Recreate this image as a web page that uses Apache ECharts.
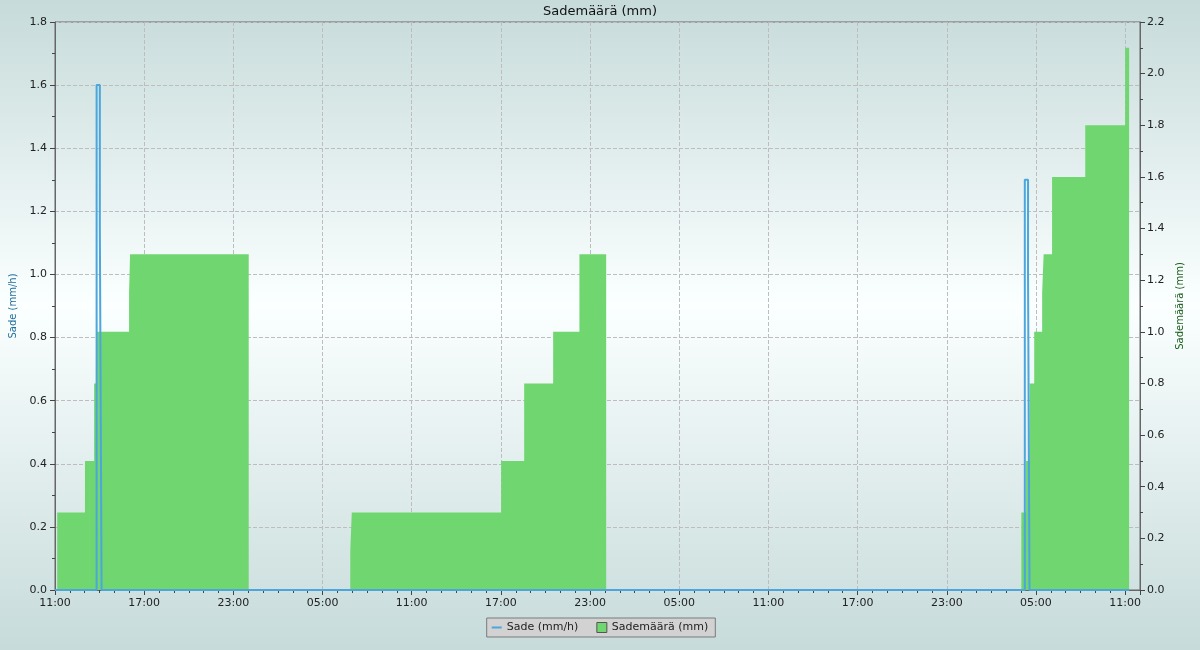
<!DOCTYPE html>
<html>
<head>
<meta charset="utf-8">
<script src="https://cdn.jsdelivr.net/npm/echarts@6/dist/echarts.min.js"></script>
<style>
html,body{margin:0;padding:0;}
#chart{width:1200px;height:650px;}
</style>
</head>
<body>
<div id="chart"></div>
<script>
// Times are "day HH:MM" (day 1 = first day, axis starts at 1 11:00)
const axisStartClock = 11;           // 11:00 on day 1
const axisHours = 73;                // axis spans 73 hours
const xTickHours = 6;

// Sademäärä (mm) – cumulative daily rainfall, value holds until next time
const amountTimes = ['1 11:00','1 11:09','1 13:01','1 13:38','1 13:48','1 15:59','1 16:03','2 00:02',
                     '2 06:52','2 06:58','2 17:01','2 18:34','2 20:31','2 22:17','3 00:05',
                     '4 04:01','4 04:20','4 04:35','4 04:53','4 05:25','4 05:31','4 06:05','4 08:19','4 11:00','4 11:16'];
const amountValues = [0, 0.3, 0.5, 0.8, 1.0, 1.15, 1.3, 0,
                      0.15, 0.3, 0.5, 0.8, 1.0, 1.3, 0,
                      0.3, 0.5, 0.8, 1.0, 1.15, 1.3, 1.6, 1.8, 2.1, 0];

// Sade (mm/h) – rain intensity
const rateTimes = ['1 11:00','1 13:48','1 14:01','1 14:05','1 14:08','4 04:15','4 04:28','4 04:34','4 11:16'];
const rateValues = [0, 1.6, 1.15, 0.5, 0, 1.3, 1.0, 0, 0];

const leftTicks = {min: 0, max: 1.8, interval: 0.2};
const rightTicks = {min: 0, max: 2.2, interval: 0.2};

function toHours(s) {
  const [d, hm] = s.split(' ');
  const [h, m] = hm.split(':').map(Number);
  return (Number(d) - 1) * 24 + h + m / 60 - axisStartClock;
}
function pairs(times, vals) { return times.map((t, i) => [toHours(t), vals[i]]); }

const font = 'DejaVu Sans';
const chart = echarts.init(document.getElementById('chart'), null, {renderer: 'canvas'});
chart.setOption({
  animation: false,
  backgroundColor: {type: 'linear', x: 0, y: 0, x2: 0, y2: 1, colorStops: [
    {offset: 0, color: '#c6dbda'}, {offset: 0.47, color: '#fbffff'}, {offset: 1, color: '#c6dbda'}]},
  textStyle: {fontFamily: font},
  title: {text: 'Sademäärä (mm)', left: 'center', top: 0,
    textStyle: {fontFamily: font, fontSize: 13, fontWeight: 'normal', color: '#111'}},
  grid: {left: 55, right: 60, top: 22, bottom: 60, show: true, borderColor: '#666', borderWidth: 1,
    backgroundColor: 'transparent'},
  legend: {
    bottom: 13, left: 'center', orient: 'horizontal',
    backgroundColor: '#d2d2d2', borderColor: '#7a7a7a', borderWidth: 1, borderRadius: 0,
    padding: [4, 7, 4, 5], itemGap: 18, itemWidth: 10, itemHeight: 10,
    textStyle: {fontFamily: font, fontSize: 11, color: '#222'},
    data: [
      {name: 'Sade (mm/h)', icon: 'path://M0,4 L10,4 L10,6 L0,6 Z', itemStyle: {color: '#4ca6dc'}},
      {name: 'Sademäärä (mm)', icon: 'rect', itemStyle: {color: '#70d670', borderColor: '#555', borderWidth: 1}}
    ]
  },
  xAxis: [{
    type: 'value', min: 0, max: axisHours, interval: xTickHours, position: 'bottom',
    axisLine: {show: true, onZero: false, lineStyle: {color: '#666'}},
    axisTick: {show: true, length: 5, lineStyle: {color: '#444'}},
    axisLabel: {fontFamily: font, fontSize: 11, color: '#222', margin: 8,
      formatter: v => {
        if (v % xTickHours !== 0) return '';
        const h = (axisStartClock + v) % 24;
        return (h < 10 ? '0' : '') + h + ':00';
      }},
    splitLine: {show: true, lineStyle: {color: '#bdbdbd', type: [4, 2], width: 1}}
  }, {
    type: 'value', min: 0, max: axisHours, interval: 1, position: 'bottom',
    axisLine: {show: false, onZero: false},
    axisTick: {show: true, length: 3, lineStyle: {color: '#444'}},
    axisLabel: {show: false},
    splitLine: {show: false}
  }],
  yAxis: [{
    type: 'value', ...leftTicks, position: 'left',
    name: 'Sade (mm/h)', nameLocation: 'middle', nameGap: 36, nameRotate: 90,
    nameTextStyle: {fontFamily: font, fontSize: 10, color: '#1f6e9e'},
    axisLine: {show: true, onZero: false, lineStyle: {color: '#666'}},
    axisTick: {show: true, length: 5, lineStyle: {color: '#444'}},
    minorTick: {show: true, splitNumber: 2, length: 3, lineStyle: {color: '#444'}},
    axisLabel: {fontFamily: font, fontSize: 11, color: '#222', margin: 8, formatter: v => v.toFixed(1)},
    splitLine: {show: true, lineStyle: {color: '#bdbdbd', type: [4, 2], width: 1}}
  }, {
    type: 'value', ...rightTicks, position: 'right',
    name: 'Sademäärä (mm)', nameLocation: 'middle', nameGap: 26, nameRotate: 90,
    nameTextStyle: {fontFamily: font, fontSize: 10, color: '#1a5e1a'},
    axisLine: {show: true, onZero: false, lineStyle: {color: '#666'}},
    axisTick: {show: true, length: 5, lineStyle: {color: '#444'}},
    minorTick: {show: true, splitNumber: 2, length: 3, lineStyle: {color: '#444'}},
    axisLabel: {fontFamily: font, fontSize: 11, color: '#222', margin: 7, formatter: v => v.toFixed(1)},
    splitLine: {show: false}
  }],
  series: [{
    name: 'Sademäärä (mm)', type: 'line', step: 'end', xAxisIndex: 0, yAxisIndex: 1,
    data: pairs(amountTimes, amountValues),
    showSymbol: false, symbol: 'none',
    itemStyle: {color: '#70d670'},
    lineStyle: {width: 0, color: '#70d670'},
    areaStyle: {color: '#70d670', opacity: 1},
    z: 2
  }, {
    name: 'Sade (mm/h)', type: 'line', step: 'end', xAxisIndex: 0, yAxisIndex: 0,
    data: pairs(rateTimes, rateValues),
    showSymbol: false, symbol: 'none',
    itemStyle: {color: '#4ca6dc'},
    lineStyle: {width: 2, color: '#4ca6dc'},
    z: 3
  }]
});
</script>
</body>
</html>
